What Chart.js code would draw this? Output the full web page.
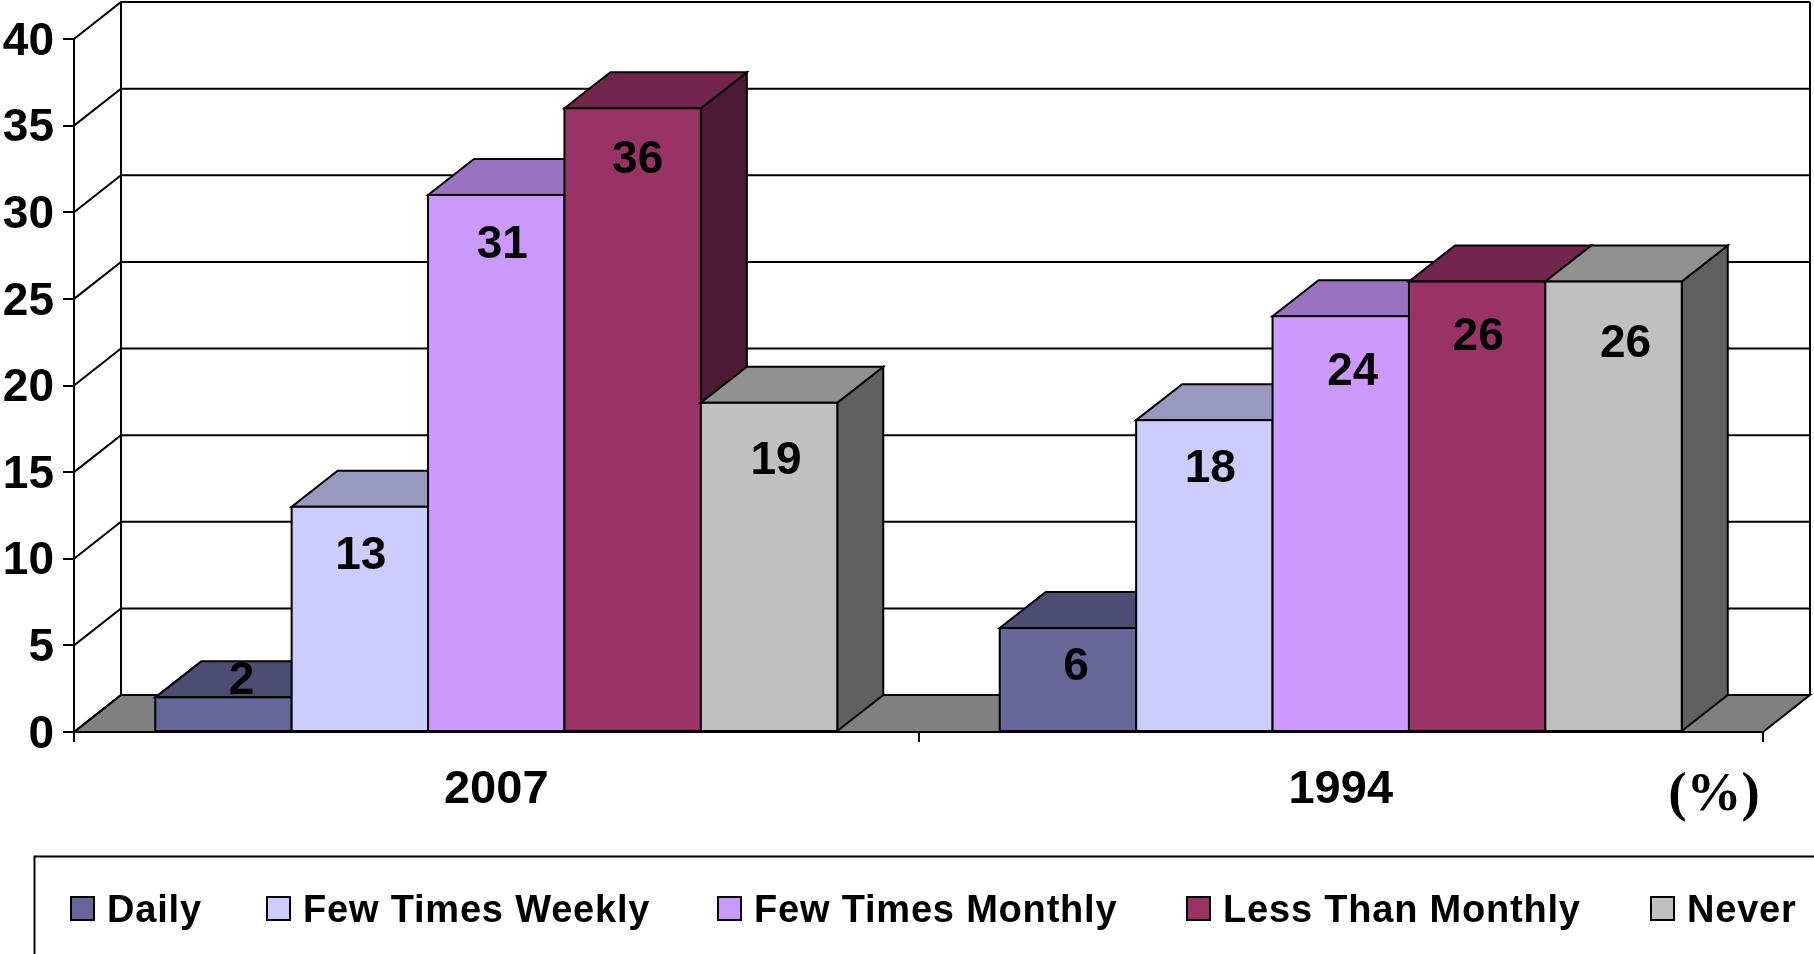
<!DOCTYPE html>
<html>
<head>
<meta charset="utf-8">
<style>
html,body{margin:0;padding:0;background:#fff;overflow:hidden}
#wrap{position:relative;width:1814px;height:954px}
canvas{display:block}
</style>
<script src="https://cdn.jsdelivr.net/npm/chart.js@4"></script>
</head>
<body>
<div id="wrap"><canvas id="c" width="1814" height="954"></canvas></div>
<script>
const categories = ['2007', '1994'];
const daily = [2, 6];
const fewTimesWeekly = [13, 18];
const fewTimesMonthly = [31, 24];
const lessThanMonthly = [36, 26];
const never = [19, 26];
const seriesNames = ['Daily', 'Few Times Weekly', 'Few Times Monthly', 'Less Than Monthly', 'Never'];
const seriesValues = [daily, fewTimesWeekly, fewTimesMonthly, lessThanMonthly, never];
const seriesColors = ['#666699', '#CCCCFF', '#CC99FF', '#993366', '#C0C0C0'];
const unitLabel = '(%)';

// styling constants
const DEPTH_X = 47, DEPTH_Y = -37, BAR_DEPTH_X = 46, BAR_DEPTH_Y = -36, LINE = 2;
// hand-placed data-label offsets from each bar's top centre: [series][category] = [dx, dy]
const labelOffsets = [
  [[18, -19], [8, 36]],
  [[1, 47], [6, 46]],
  [[6, 47], [12, 53]],
  [[5, 49], [1, 53]],
  [[7, 55], [12, 60]]
];
const legendSwatchX = [71, 267, 718, 1187, 1651];

function shade(hex, f) {
  const n = parseInt(hex.slice(1), 16);
  const c = [n >> 16 & 255, n >> 8 & 255, n & 255].map(v => Math.round(v * f));
  return `rgb(${c[0]},${c[1]},${c[2]})`;
}
function poly(ctx, pts, fill) {
  ctx.beginPath();
  pts.forEach((p, i) => i ? ctx.lineTo(p[0], p[1]) : ctx.moveTo(p[0], p[1]));
  ctx.closePath();
  if (fill) { ctx.fillStyle = fill; ctx.fill(); }
  ctx.stroke();
}

const plugin3d = {
  id: 'plugin3d',
  beforeDatasetsDraw(chart) {
    const ctx = chart.ctx, { left, right, bottom } = chart.chartArea, y = chart.scales.y;
    ctx.save();
    ctx.strokeStyle = '#000';
    ctx.lineWidth = LINE;
    ctx.lineCap = 'butt';
    // floor
    poly(ctx, [[left, bottom], [left + DEPTH_X, bottom + DEPTH_Y], [right + DEPTH_X, bottom + DEPTH_Y], [right, bottom]], '#808080');
    // wall gridlines
    y.ticks.forEach(t => {
      const py = y.getPixelForValue(t.value);
      ctx.beginPath();
      ctx.moveTo(left, py);
      ctx.lineTo(left + DEPTH_X, py + DEPTH_Y);
      if (t.value !== 0) ctx.lineTo(right + DEPTH_X, py + DEPTH_Y);
      ctx.stroke();
    });
    const topY = y.getPixelForValue(y.max) + DEPTH_Y, floorY = bottom + DEPTH_Y;
    ctx.beginPath();
    ctx.moveTo(left + DEPTH_X, topY); ctx.lineTo(left + DEPTH_X, floorY);
    ctx.moveTo(right + DEPTH_X, topY); ctx.lineTo(right + DEPTH_X, floorY);
    ctx.stroke();
    // bars, left to right, each covering the 3D faces of the one before it
    chart.data.datasets.forEach((ds, i) => {
      const color = seriesColors[i];
      chart.getDatasetMeta(i).data.forEach(bar => {
        const l = bar.x - bar.width / 2, r = bar.x + bar.width / 2, t = bar.y, b = bar.base;
        poly(ctx, [[r, t], [r + BAR_DEPTH_X, t + BAR_DEPTH_Y], [r + BAR_DEPTH_X, b + BAR_DEPTH_Y], [r, b]], shade(color, 0.5));
        poly(ctx, [[l, t], [l + BAR_DEPTH_X, t + BAR_DEPTH_Y], [r + BAR_DEPTH_X, t + BAR_DEPTH_Y], [r, t]], shade(color, 0.75));
        bar.draw(ctx);
        ctx.strokeStyle = '#000';
        ctx.lineWidth = LINE;
        ctx.strokeRect(l, t, bar.width, b - t);
      });
    });
    ctx.restore();
  },
  // the faces above already painted the bars in the right order
  beforeDatasetDraw() { return false; },
  afterDatasetsDraw(chart) {
    const ctx = chart.ctx, { bottom, left, right } = chart.chartArea;
    ctx.save();
    // axis line back on top of bars
    ctx.strokeStyle = '#000';
    ctx.lineWidth = LINE;
    ctx.beginPath(); ctx.moveTo(left, bottom); ctx.lineTo(right, bottom); ctx.stroke();
    // data labels
    ctx.fillStyle = '#000';
    ctx.textAlign = 'center';
    ctx.textBaseline = 'middle';
    ctx.font = 'bold 46px "Liberation Sans", Arial, sans-serif';
    chart.data.datasets.forEach((ds, i) => {
      chart.getDatasetMeta(i).data.forEach((bar, j) => {
        const off = labelOffsets[i][j];
        ctx.fillText(String(ds.data[j]), bar.x + off[0], bar.y + off[1] + 3);
      });
    });
    // unit
    ctx.font = 'bold 55px "Liberation Serif", "Times New Roman", serif';
    ctx.fillText(unitLabel, 1714, 796);
    // legend frame (runs past the picture on the right and bottom)
    ctx.beginPath();
    ctx.moveTo(34.5, 960); ctx.lineTo(34.5, 856.5); ctx.lineTo(1820, 856.5);
    ctx.stroke();
    // legend items
    ctx.textAlign = 'left';
    ctx.font = 'bold 38px "Liberation Sans", Arial, sans-serif';
    ctx.letterSpacing = '0.8px';
    chart.data.datasets.forEach((ds, i) => {
      const x = legendSwatchX[i];
      ctx.fillStyle = ds.backgroundColor;
      ctx.fillRect(x, 897, 23, 23);
      ctx.strokeRect(x, 897, 23, 23);
      ctx.fillStyle = '#000';
      ctx.fillText(ds.label, x + 36, 912);
    });
    ctx.restore();
  }
};

new Chart(document.getElementById('c'), {
  type: 'bar',
  data: {
    labels: categories,
    datasets: seriesNames.map((name, i) => ({
      label: name,
      data: seriesValues[i],
      backgroundColor: seriesColors[i],
      borderWidth: 0,
      categoryPercentage: 0.8076,
      barPercentage: 1
    }))
  },
  options: {
    responsive: false,
    animation: false,
    layout: { padding: { top: 39, right: 51, left: 0, bottom: 0 } },
    plugins: { legend: { display: false }, title: { display: false }, tooltip: { enabled: false } },
    scales: {
      x: {
        afterFit: s => { s.height = 222; },
        grid: { display: true, drawOnChartArea: false, color: '#000', lineWidth: LINE, tickLength: 10, offset: true },
        border: { display: true, color: '#000', width: LINE },
        ticks: { color: '#000', padding: 20, maxRotation: 0, font: { family: '"Liberation Sans", Arial, sans-serif', size: 47, weight: 'bold' } }
      },
      y: {
        min: 0, max: 40,
        afterFit: s => { s.width = 74; },
        grid: { display: true, drawOnChartArea: false, color: '#000', lineWidth: LINE, tickLength: 11 },
        border: { display: true, color: '#000', width: LINE },
        ticks: { stepSize: 5, color: '#000', padding: 9, labelOffset: 3, font: { family: '"Liberation Sans", Arial, sans-serif', size: 46, weight: 'bold' } }
      }
    }
  },
  plugins: [plugin3d]
});
</script>
</body>
</html>
